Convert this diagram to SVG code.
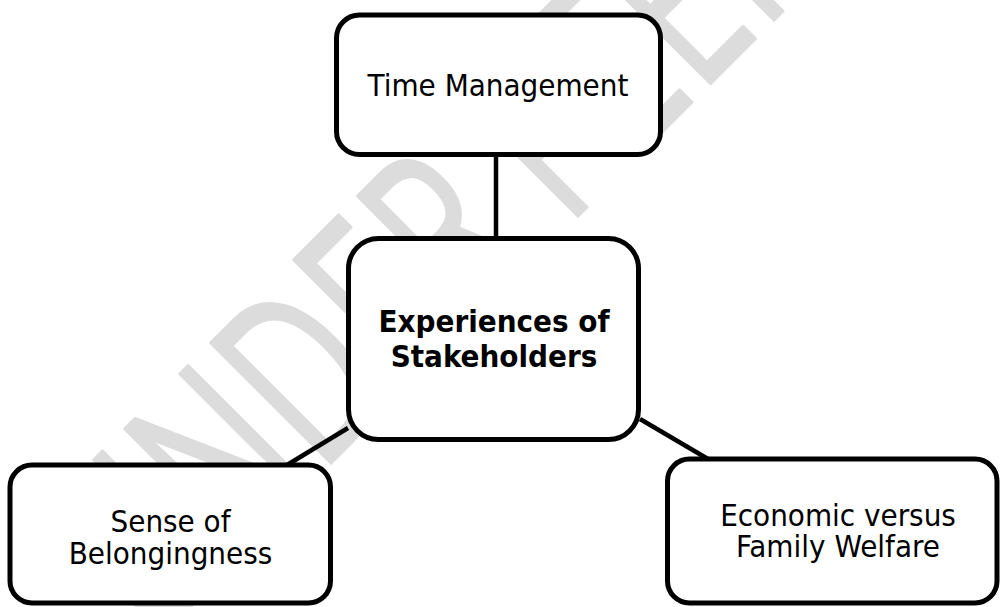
<svg xmlns="http://www.w3.org/2000/svg" width="1000" height="607" viewBox="0 0 1000 607">
<style>
.box{fill:#ffffff;stroke:#000000;stroke-width:5}
.conn{stroke:#000000;stroke-width:4.5;fill:none}
.t{font-family:"DejaVu Sans Condensed","DejaVu Sans",sans-serif;font-stretch:condensed;font-size:31px;fill:#000000;text-anchor:middle}
.b{font-weight:bold}
.wm{font-family:"Open Sans","Noto Sans",sans-serif;font-size:238px;fill:#dcdcdc;stroke:#dcdcdc;stroke-width:3;stroke-linejoin:round}
</style>
<rect width="1000" height="607" fill="#ffffff"/>
<g id="watermark">
<text class="wm" transform="translate(150,644) rotate(-45) scale(0.68,1)">UNDER PEER REVIEW</text>
</g>
<g id="connectors">
<line class="conn" x1="496" y1="156" x2="496" y2="239"/>
<line class="conn" x1="348" y1="428" x2="287" y2="465"/>
<line class="conn" x1="640" y1="419" x2="708" y2="459"/>
</g>
<g id="node-time">
<rect class="box" x="336.5" y="15" width="324" height="139.5" rx="23"/>
<text class="t" x="498" y="96">Time Management</text>
</g>
<g id="node-center">
<rect class="box" x="348.5" y="238.5" width="290" height="201" rx="30"/>
<text class="t b" x="494" y="332">Experiences of</text>
<text class="t b" x="494" y="367">Stakeholders</text>
</g>
<g id="node-belonging">
<rect class="box" x="10" y="465" width="320.5" height="138" rx="22"/>
<text class="t" x="170.5" y="532">Sense of</text>
<text class="t" x="170.5" y="564">Belongingness</text>
</g>
<g id="node-economic">
<rect class="box" x="667.5" y="459" width="329.5" height="144" rx="22"/>
<text class="t" x="838" y="526">Economic versus</text>
<text class="t" x="838" y="557">Family Welfare</text>
</g>
</svg>
